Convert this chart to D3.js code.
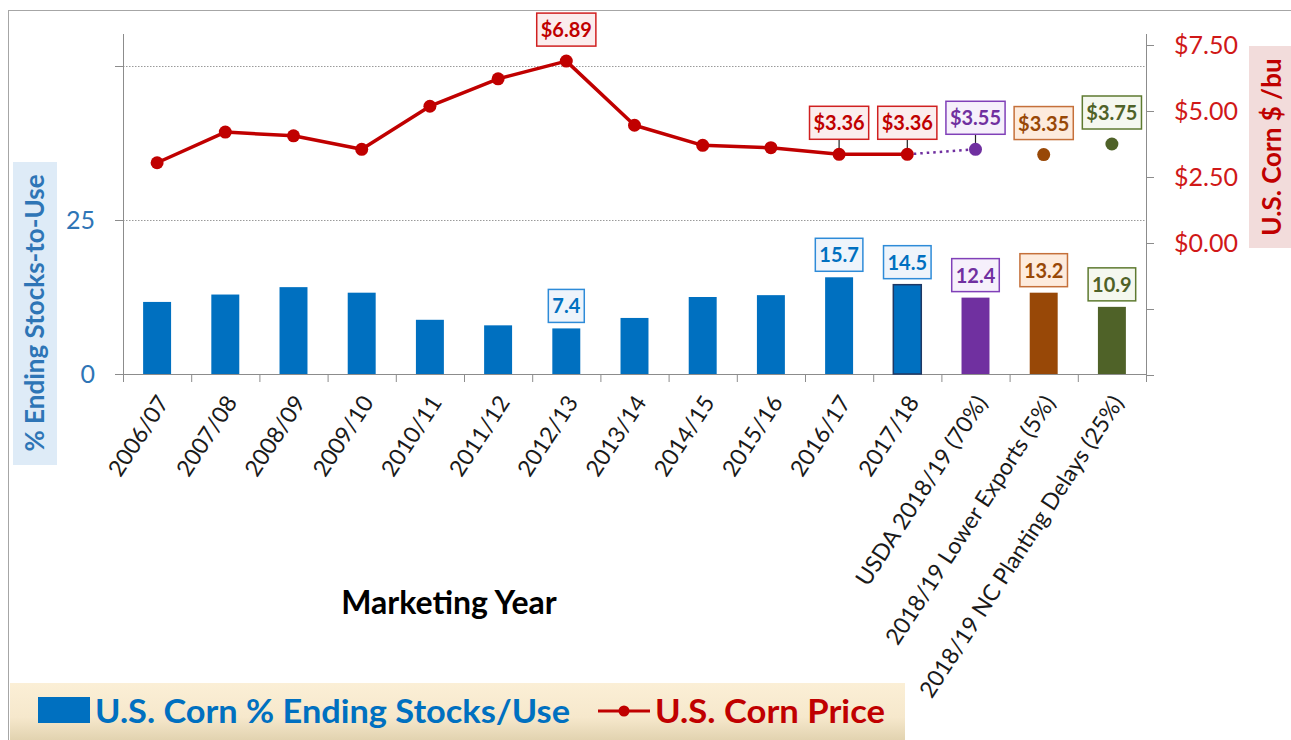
<!DOCTYPE html>
<html>
<head>
<meta charset="utf-8">
<script src="https://cdn.jsdelivr.net/npm/d3@7"></script>
<style>
  body { margin: 0; background: #fff; }
  svg { display: block; font-family: Carlito, Calibri, Lato, sans-serif; }
</style>
</head>
<body>
<div id="chart"></div>
<script>
(function () {

// marketing years + scenarios
const years = ["2006/07", "2007/08", "2008/09", "2009/10", "2010/11", "2011/12", "2012/13",
  "2013/14", "2014/15", "2015/16", "2016/17", "2017/18", "USDA 2018/19 (70%)",
  "2018/19 Lower Exports (5%)", "2018/19 NC Planting Delays (25%)"];

// % ending stocks-to-use (bars, left axis)
const stocksUse = [11.7, 12.9, 14.1, 13.2, 8.8, 7.9, 7.4, 9.1, 12.5, 12.8, 15.7, 14.5, 12.4, 13.2, 10.9];

// corn price $/bu (line, right axis)
const cornPrice = [3.04, 4.20, 4.06, 3.55, 5.18, 6.22, 6.89, 4.46, 3.70, 3.61, 3.36, 3.36, 3.55, 3.35, 3.75];

// which points get a value box
const stockLabelIdx = [6, 10, 11, 12, 13, 14];
const priceLabelIdx = [6, 10, 11, 12, 13, 14];
const leaderIdx = [10, 11, 12];

// axis ticks
const leftTicks = [0, 25, 50];
const leftTickLabels = ["0", "25", ""];
const rightTicks = [-5, -2.5, 0, 2.5, 5, 7.5];
const rightTickLabels = ["", "", "$0.00", "$2.50", "$5.00", "$7.50"];

// colours: history is blue/red, scenarios get their own
const barColor = i => i < 12 ? "#0070C0" : ["#7030A0", "#984807", "#4F6228"][i - 12];
const priceColor = i => i < 12 ? "#C00000" : ["#7030A0", "#984807", "#4F6228"][i - 12];
const boxStyle = {
  blue:   {stroke: "#2E8BD8", fill: "#EEF4FB", text: "#0070C0"},
  red:    {stroke: "#D02020", fill: "#FBEDED", text: "#C00000"},
  purple: {stroke: "#8040B8", fill: "#F6F0FB", text: "#7030A0"},
  brown:  {stroke: "#C5703A", fill: "#FDEBDD", text: "#984807"},
  green:  {stroke: "#5E7A30", fill: "#F5F8EF", text: "#4F6228"}
};
const scenarioBox = ["purple", "brown", "green"];

const W = 1291, H = 740;
const plot = {left: 123, right: 1146, top: 34, bottom: 374};

const svg = d3.select("#chart").append("svg")
    .attr("width", W)
    .attr("height", H);

// frame
svg.append("rect")
  .attr("x", 8.5).attr("y", 10.5)
  .attr("width", 1300).attr("height", 760)
  .attr("fill", "none")
  .attr("stroke", "#A6A6A6");

const x = d3.scaleBand()
  .domain(years)
  .range([plot.left, plot.right])
  .paddingInner(0.59)
  .paddingOuter(0.295);

const yL = d3.scaleLinear().domain([0, 55]).range([plot.bottom, 35.2]);
const yR = d3.scaleLinear().domain([-5, 7.5]).range([375, 45]);

const axisColor = "#8C8C8C";

// dotted gridlines at left major ticks
svg.append("g").selectAll("line")
  .data(leftTicks.filter(d => d > 0))
  .join("line")
  .attr("x1", plot.left).attr("x2", plot.right)
  .attr("y1", d => Math.round(yL(d)) + 0.5).attr("y2", d => Math.round(yL(d)) + 0.5)
  .attr("stroke", "#9A9A9A")
  .attr("stroke-width", 1)
  .attr("stroke-dasharray", "1.5,1.5");

// left axis
const gL = svg.append("g")
  .attr("transform", `translate(${plot.left},0)`)
  .call(d3.axisLeft(yL).tickValues(leftTicks).tickSize(8).tickPadding(20)
    .tickFormat((d, i) => leftTickLabels[i]));
gL.select(".domain").remove();
gL.selectAll(".tick line").attr("stroke", axisColor);
gL.selectAll(".tick text")
  .attr("fill", "#2E75B6")
  .style("font-size", "25px")
  .style("font-family", "Lato, sans-serif");
svg.append("line")
  .attr("x1", plot.left + 0.5).attr("x2", plot.left + 0.5)
  .attr("y1", plot.top).attr("y2", plot.bottom + 8)
  .attr("stroke", axisColor);

// right axis
const gR = svg.append("g")
  .attr("transform", `translate(${plot.right},0)`)
  .call(d3.axisRight(yR).tickValues(rightTicks).tickSize(8).tickPadding(20)
    .tickFormat((d, i) => rightTickLabels[i]));
gR.select(".domain").remove();
gR.selectAll(".tick line").attr("stroke", axisColor);
gR.selectAll(".tick text")
  .attr("fill", "#D01818")
  .style("font-size", "25px")
  .style("font-family", "Lato, sans-serif");
svg.append("line")
  .attr("x1", plot.right + 0.5).attr("x2", plot.right + 0.5)
  .attr("y1", plot.top).attr("y2", plot.bottom + 8)
  .attr("stroke", axisColor);

// x axis: baseline + boundary ticks
svg.append("line")
  .attr("x1", plot.left).attr("x2", plot.right)
  .attr("y1", plot.bottom + 0.5).attr("y2", plot.bottom + 0.5)
  .attr("stroke", axisColor);
svg.append("g").selectAll("line")
  .data(d3.range(years.length + 1))
  .join("line")
  .attr("x1", i => plot.left + i * x.step() + 0.5)
  .attr("x2", i => plot.left + i * x.step() + 0.5)
  .attr("y1", plot.bottom).attr("y2", plot.bottom + 8)
  .attr("stroke", axisColor);

// category labels, rotated
const gX = svg.append("g")
  .attr("transform", `translate(0,${plot.bottom})`)
  .call(d3.axisBottom(x).tickSize(0).tickPadding(0));
gX.select(".domain").remove();
gX.selectAll(".tick text")
  .attr("text-anchor", "end")
  .attr("fill", "#1a1a1a")
  .style("font-size", "23px")
  .style("font-family", "Lato, sans-serif")
  .attr("dy", "0.35em")
  .attr("transform", "translate(6,24) rotate(-57)");

// bars
svg.append("g").selectAll("rect")
  .data(stocksUse)
  .join("rect")
  .attr("x", (d, i) => x(years[i]))
  .attr("width", x.bandwidth())
  .attr("y", d => yL(d))
  .attr("height", d => plot.bottom - yL(d))
  .attr("fill", (d, i) => barColor(i))
  .attr("stroke", (d, i) => i === 11 ? "#1F3864" : "none")
  .attr("stroke-width", 1.5);

const cx = i => x(years[i]) + x.bandwidth() / 2;

// price line (history) and dotted extension to USDA
const line = d3.line().x(d => cx(d.i)).y(d => yR(d.v));
const hist = cornPrice.slice(0, 12).map((v, i) => ({v, i}));
svg.append("path")
  .attr("d", line(hist))
  .attr("fill", "none")
  .attr("stroke", "#C00000")
  .attr("stroke-width", 3.5)
  .attr("stroke-linejoin", "round");
svg.append("path")
  .attr("d", line([{v: cornPrice[11], i: 11}, {v: cornPrice[12], i: 12}]))
  .attr("fill", "none")
  .attr("stroke", "#7030A0")
  .attr("stroke-width", 2.5)
  .attr("stroke-dasharray", "2.5,4");

// leader lines
svg.append("g").selectAll("line")
  .data(leaderIdx)
  .join("line")
  .attr("x1", i => cx(i)).attr("x2", i => cx(i))
  .attr("y1", i => yR(cornPrice[i]) - 15).attr("y2", i => yR(cornPrice[i]))
  .attr("stroke", "#222")
  .attr("stroke-width", 1.2);

svg.append("g").selectAll("circle")
  .data(cornPrice)
  .join("circle")
  .attr("cx", (d, i) => cx(i))
  .attr("cy", d => yR(d))
  .attr("r", 6.5)
  .attr("fill", (d, i) => priceColor(i));

// value boxes
function valueBox(g, text, cxv, bottom, st) {
  const t = g.append("text")
    .attr("x", cxv)
    .attr("text-anchor", "middle")
    .attr("fill", st.text)
    .style("font-size", "20px")
    .style("font-weight", "bold")
    .style("font-family", "Lato, sans-serif")
    .text(text);
  const w = t.node().getComputedTextLength() + 8, h = 33;
  t.attr("y", bottom - 9);
  g.insert("rect", "text")
    .attr("x", cxv - w / 2).attr("y", bottom - h)
    .attr("width", w).attr("height", h)
    .attr("fill", st.fill)
    .attr("stroke", st.stroke)
    .attr("stroke-width", 1.5);
}

stockLabelIdx.forEach(i => {
  const g = svg.append("g");
  const st = i < 12 ? boxStyle.blue : boxStyle[scenarioBox[i - 12]];
  valueBox(g, stocksUse[i].toFixed(1), cx(i), yL(stocksUse[i]) - 6, st);
});
priceLabelIdx.forEach(i => {
  const g = svg.append("g");
  const st = i < 12 ? boxStyle.red : boxStyle[scenarioBox[i - 12]];
  valueBox(g, "$" + cornPrice[i].toFixed(2), cx(i), yR(cornPrice[i]) - 15, st);
});

// left axis title
svg.append("rect")
  .attr("x", 13).attr("y", 162).attr("width", 44).attr("height", 303)
  .attr("fill", "#DEEBF7");
svg.append("text")
  .attr("transform", "translate(44,313) rotate(-90)")
  .attr("text-anchor", "middle")
  .attr("fill", "#2E75B6")
  .style("font-size", "26px")
  .style("font-weight", "bold")
  .style("font-family", "Lato, sans-serif")
  .text("% Ending Stocks-to-Use");

// right axis title
svg.append("rect")
  .attr("x", 1249).attr("y", 46).attr("width", 42).attr("height", 202)
  .attr("fill", "#F2DCDB");
svg.append("text")
  .attr("transform", "translate(1281,147) rotate(-90)")
  .attr("text-anchor", "middle")
  .attr("fill", "#C00000")
  .style("font-size", "26px")
  .style("font-weight", "bold")
  .style("font-family", "Lato, sans-serif")
  .text("U.S. Corn $ /bu");

// x axis title
svg.append("text")
  .attr("x", 449).attr("y", 614)
  .attr("text-anchor", "middle")
  .attr("fill", "#000")
  .style("font-size", "32px")
  .style("font-weight", "bold")
  .style("font-family", "Lato, sans-serif")
  .text("Marketing Year");

// legend
const defs = svg.append("defs");
const grad = defs.append("linearGradient")
  .attr("id", "legbg").attr("x1", 0).attr("x2", 0).attr("y1", 0).attr("y2", 1);
grad.append("stop").attr("offset", "0%").attr("stop-color", "#FBEFD6");
grad.append("stop").attr("offset", "60%").attr("stop-color", "#F6E8CC");
grad.append("stop").attr("offset", "100%").attr("stop-color", "#E2D3B0");

const leg = svg.append("g");
leg.append("rect")
  .attr("x", 10).attr("y", 683).attr("width", 895).attr("height", 57)
  .attr("fill", "url(#legbg)");
leg.append("rect")
  .attr("x", 38).attr("y", 697).attr("width", 52).attr("height", 26)
  .attr("fill", "#0070C0");
leg.append("text")
  .attr("x", 95).attr("y", 723)
  .attr("fill", "#0070C0")
  .style("font-size", "32px")
  .style("font-weight", "bold")
  .style("font-family", "Lato, sans-serif")
  .attr("textLength", 475)
  .attr("lengthAdjust", "spacingAndGlyphs")
  .text("U.S. Corn % Ending Stocks/Use");
leg.append("line")
  .attr("x1", 598).attr("x2", 650).attr("y1", 711).attr("y2", 711)
  .attr("stroke", "#C00000").attr("stroke-width", 3);
leg.append("circle")
  .attr("cx", 624).attr("cy", 711).attr("r", 5.5)
  .attr("fill", "#C00000");
leg.append("text")
  .attr("x", 655).attr("y", 723)
  .attr("fill", "#C00000")
  .style("font-size", "32px")
  .style("font-weight", "bold")
  .style("font-family", "Lato, sans-serif")
  .attr("textLength", 230)
  .attr("lengthAdjust", "spacingAndGlyphs")
  .text("U.S. Corn Price");

})()
</script>
</body>
</html>
